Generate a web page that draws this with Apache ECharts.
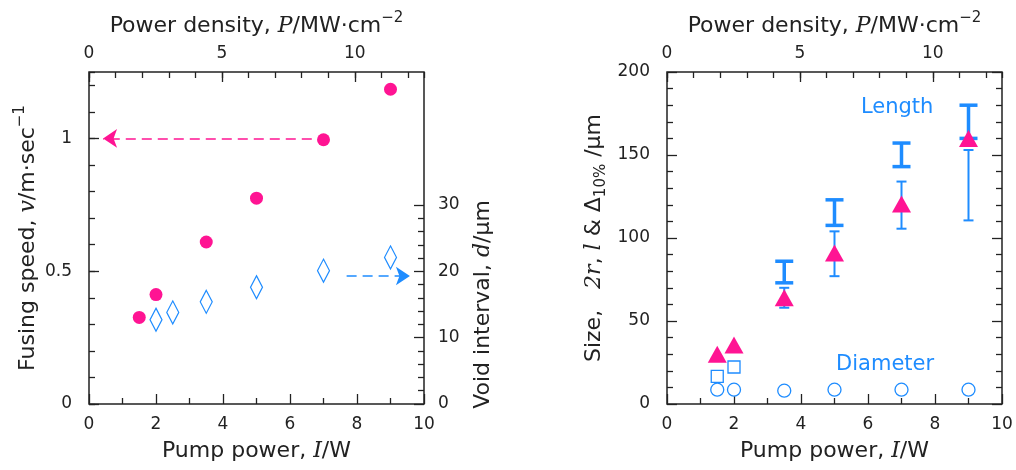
<!DOCTYPE html>
<html>
<head>
<meta charset="utf-8">
<script src="https://cdn.jsdelivr.net/npm/echarts@6/dist/echarts.min.js"></script>
<style>
body{margin:0;background:#fff}
#main{width:1016px;height:470px}
</style>
</head>
<body>
<div id="main"></div>
<script>
// values
// left panel
var fusePower = [1.5, 2, 3.5, 5, 7, 9];
var fuseSpeed = [0.326, 0.412, 0.61, 0.775, 0.995, 1.185];
var voidPower = [2, 2.5, 3.5, 5, 7, 9];
var voidInterval = [12.7, 13.8, 15.4, 17.6, 20.1, 22.1];
// arrows: [from x, to x, y]
var speedArrow = [6.65, 0.42, 1.0];
var voidArrow = [7.69, 9.58, 19.3];

// right panel
var triPower = [1.5, 2, 3.5, 5, 7, 9];
var triSize = [30, 35.5, 64, 91, 120.5, 160];
var thinPower = [3.5, 5, 7, 9];
var thinLow = [58, 77, 105.6, 110.6];
var thinHigh = [70, 104, 134, 153];
var lenPower = [3.5, 5, 7, 9];
var lenLow = [73, 107.6, 143, 160];
var lenHigh = [86, 123, 157.2, 180];
var sqPower = [1.5, 2];
var sqSize = [16.6, 22.3];
var diaPower = [1.5, 2, 3.5, 5, 7, 9];
var diaSize = [8.6, 8.6, 8, 8.6, 8.6, 8.6];
var noteText = ['Length', 'Diameter'];
var notePower = [6.87, 6.51];
var noteSize = [178.5, 23.7];

var pink = '#ff1493';
var blue = '#1e8cff';
var ink = '#222';

function zip(xs, ys) {
	return xs.map(function (x, i) { return [x, ys[i]]; });
}
function zip3(xs, a, b) {
	return xs.map(function (x, i) { return [x, a[i], b[i]]; });
}

var rich = {
	n: { fontFamily: 'DejaVu Sans', fontSize: 22, color: ink, lineHeight: 30 },
	i: { fontFamily: 'DejaVu Serif', fontStyle: 'italic', fontSize: 22, color: ink, lineHeight: 30 },
	sup: { fontFamily: 'DejaVu Sans', fontSize: 15, color: ink, lineHeight: 16, verticalAlign: 'top' },
	sub: { fontFamily: 'DejaVu Sans', fontSize: 15, color: ink, lineHeight: 14, verticalAlign: 'bottom' }
};
var tickFont = { fontFamily: 'DejaVu Sans', fontSize: 17, color: ink };

function tick(len) {
	return { show: true, inside: true, length: len, lineStyle: { color: ink, width: 1.3 } };
}
function minor(n) {
	return { show: true, splitNumber: n, length: 6, lineStyle: { color: ink, width: 1.3 } };
}
// one value axis, most things off; onZero off so every axis stays on its own side
function axis(o) {
	var a = {
		type: 'value',
		axisLine: { show: false, onZero: false },
		splitLine: { show: false },
		axisTick: tick(10),
		axisLabel: { show: false }
	};
	for (var k in o) a[k] = o[k];
	return a;
}

var pumpName = '{n|Pump power, }{i|I}{n|/W}';
var densName = '{n|Power density, }{i|P}{n|/MW·cm}{sup|−2}';

var myChart = echarts.init(document.getElementById('main'));
var option = {
	backgroundColor: '#fff',
	animation: false,
	grid: [
		{ left: 89, top: 72, width: 335, height: 332, show: true, borderColor: ink, borderWidth: 1.5 },
		{ left: 89, top: 205, width: 335, height: 199 },
		{ left: 667, top: 72, width: 335, height: 332, show: true, borderColor: ink, borderWidth: 1.5 }
	],
	xAxis: [
		axis({ gridIndex: 0, position: 'bottom', min: 0, max: 10, interval: 2, minorTick: minor(2),
			axisLabel: Object.assign({ margin: 12 }, tickFont),
			name: pumpName, nameLocation: 'middle', nameGap: 32, nameTextStyle: { rich: rich } }),
		axis({ gridIndex: 0, position: 'top', min: 0, max: 12.6, interval: 5,
			axisLabel: Object.assign({ margin: 10, showMaxLabel: false }, tickFont),
			name: densName, nameLocation: 'middle', nameGap: 31, nameTextStyle: { rich: rich } }),
		axis({ gridIndex: 0, position: 'top', min: 0, max: 12.6, interval: 1, axisTick: tick(6) }),
		axis({ gridIndex: 1, position: 'bottom', min: 0, max: 10, show: false }),
		axis({ gridIndex: 2, position: 'bottom', min: 0, max: 10, interval: 2, minorTick: minor(2),
			axisLabel: Object.assign({ margin: 12 }, tickFont),
			name: pumpName, nameLocation: 'middle', nameGap: 32, nameTextStyle: { rich: rich } }),
		axis({ gridIndex: 2, position: 'top', min: 0, max: 12.6, interval: 5,
			axisLabel: Object.assign({ margin: 10, showMaxLabel: false }, tickFont),
			name: densName, nameLocation: 'middle', nameGap: 31, nameTextStyle: { rich: rich } }),
		axis({ gridIndex: 2, position: 'top', min: 0, max: 12.6, interval: 1, axisTick: tick(6) })
	],
	yAxis: [
		axis({ gridIndex: 0, position: 'left', min: 0, max: 1.25, interval: 0.5,
			axisLabel: Object.assign({ margin: 17, showMaxLabel: false }, tickFont),
			name: '{n|Fusing speed, }{i|v}{n|/m·sec}{sup|−1}', nameLocation: 'middle', nameGap: 46,
			nameTextStyle: { rich: rich } }),
		axis({ gridIndex: 0, position: 'left', min: 0, max: 1.25, interval: 0.1, axisTick: tick(6) }),
		axis({ gridIndex: 1, position: 'right', min: 0, max: 30, interval: 10, minorTick: minor(5),
			axisLabel: Object.assign({ margin: 14 }, tickFont),
			name: '{n|Void interval, }{i|d}{n|/μm}', nameLocation: 'middle', nameGap: 44, nameRotate: 90,
			nameTextStyle: { rich: rich } }),
		axis({ gridIndex: 2, position: 'left', min: 0, max: 200, interval: 50, minorTick: minor(5),
			axisLabel: Object.assign({ margin: 17 }, tickFont),
			name: '{n|Size,   }{i|2r}{n|, }{i|l}{n| & Δ}{sub|10%}{n| /μm}', nameLocation: 'middle', nameGap: 58,
			nameTextStyle: { rich: rich } }),
		axis({ gridIndex: 2, position: 'right', min: 0, max: 200, interval: 50, minorTick: minor(5) })
	],
	series: [
		{
			type: 'scatter', xAxisIndex: 0, yAxisIndex: 0,
			symbol: 'circle', symbolSize: 13,
			itemStyle: { color: pink, opacity: 1 },
			data: zip(fusePower, fuseSpeed),
			markLine: {
				silent: true, symbol: ['none', 'arrow'], symbolSize: 14,
				label: { show: false },
				lineStyle: { color: pink, type: [10, 6], width: 1.5, opacity: 1 },
				data: [[{ coord: [speedArrow[0], speedArrow[2]] }, { coord: [speedArrow[1], speedArrow[2]] }]]
			}
		},
		{
			type: 'scatter', xAxisIndex: 3, yAxisIndex: 2,
			symbol: 'diamond', symbolSize: [12, 23],
			itemStyle: { color: '#fff', borderColor: blue, borderWidth: 1.3, opacity: 1 },
			data: zip(voidPower, voidInterval),
			markLine: {
				silent: true, symbol: ['none', 'arrow'], symbolSize: 14,
				label: { show: false },
				lineStyle: { color: blue, type: [10, 6], width: 1.5, opacity: 1 },
				data: [[{ coord: [voidArrow[0], voidArrow[2]] }, { coord: [voidArrow[1], voidArrow[2]] }]]
			}
		},
		{
			// length range, thick bars
			type: 'custom', xAxisIndex: 4, yAxisIndex: 3, z: 2,
			encode: { x: 0, y: [1, 2] },
			data: zip3(lenPower, lenLow, lenHigh),
			renderItem: function (params, api) {
				var lo = api.coord([api.value(0), api.value(1)]);
				var hi = api.coord([api.value(0), api.value(2)]);
				var st = { stroke: blue, lineWidth: 3.5 };
				return { type: 'group', children: [
					{ type: 'line', shape: { x1: lo[0], y1: lo[1], x2: hi[0], y2: hi[1] }, style: st },
					{ type: 'line', shape: { x1: lo[0] - 9, y1: lo[1], x2: lo[0] + 9, y2: lo[1] }, style: st },
					{ type: 'line', shape: { x1: hi[0] - 9, y1: hi[1], x2: hi[0] + 9, y2: hi[1] }, style: st }
				] };
			}
		},
		{
			// thin bars under the triangles
			type: 'custom', xAxisIndex: 4, yAxisIndex: 3, z: 2,
			encode: { x: 0, y: [1, 2] },
			data: zip3(thinPower, thinLow, thinHigh),
			renderItem: function (params, api) {
				var lo = api.coord([api.value(0), api.value(1)]);
				var hi = api.coord([api.value(0), api.value(2)]);
				var st = { stroke: blue, lineWidth: 2 };
				return { type: 'group', children: [
					{ type: 'line', shape: { x1: lo[0], y1: lo[1], x2: hi[0], y2: hi[1] }, style: st },
					{ type: 'line', shape: { x1: lo[0] - 5, y1: lo[1], x2: lo[0] + 5, y2: lo[1] }, style: st },
					{ type: 'line', shape: { x1: hi[0] - 5, y1: hi[1], x2: hi[0] + 5, y2: hi[1] }, style: st }
				] };
			}
		},
		{
			type: 'scatter', xAxisIndex: 4, yAxisIndex: 3, z: 3,
			symbol: 'triangle', symbolSize: [19, 17],
			itemStyle: { color: pink, opacity: 1 },
			data: zip(triPower, triSize)
		},
		{
			type: 'scatter', xAxisIndex: 4, yAxisIndex: 3, z: 3,
			symbol: 'rect', symbolSize: 12,
			itemStyle: { color: '#fff', borderColor: blue, borderWidth: 1.3, opacity: 1 },
			data: zip(sqPower, sqSize)
		},
		{
			type: 'scatter', xAxisIndex: 4, yAxisIndex: 3, z: 3,
			symbol: 'circle', symbolSize: 13,
			itemStyle: { color: '#fff', borderColor: blue, borderWidth: 1.3, opacity: 1 },
			data: zip(diaPower, diaSize)
		},
		{
			// "Length" / "Diameter" notes
			type: 'scatter', xAxisIndex: 4, yAxisIndex: 3, z: 4,
			symbolSize: 1, itemStyle: { color: 'rgba(0,0,0,0)', opacity: 1 },
			label: { show: true, position: 'inside', color: blue, opacity: 1, fontFamily: 'DejaVu Sans', fontSize: 21,
				formatter: function (p) { return p.name; } },
			data: noteText.map(function (t, i) { return { name: t, value: [notePower[i], noteSize[i]] }; })
		}
	]
};
myChart.setOption(option);
</script>
</body>
</html>
